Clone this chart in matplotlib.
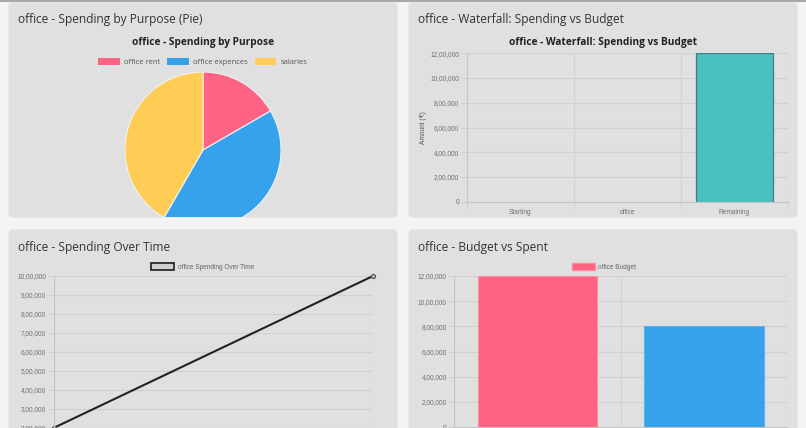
import matplotlib
matplotlib.use("Agg")
import matplotlib.pyplot as plt
from matplotlib.patches import FancyBboxPatch, Patch
from matplotlib.ticker import FuncFormatter, MultipleLocator

W, H = 806, 428

# ---- data ----
pie_labels = ["office rent", "office expences", "salaries"]
pie_values = [200000, 500000, 500000]
pie_colors = ["#ff6384", "#36a2eb", "#ffcd56"]

wf_labels = ["Starting", "office", "Remaining"]
wf_values = [0, 0, 1200000]

time_labels = ["Start", "Now"]
time_values = [200000, 1000000]

bvs_labels = ["Budget", "Spent"]
bvs_values = [1200000, 800000]
bvs_colors = ["#ff6384", "#36a2eb"]

TITLE_FONT = ["Open Sans", "DejaVu Sans"]
TICK_FONT = ["Liberation Sans", "DejaVu Sans"]
GRID = "#d0d0d0"
TICK_COLOR = "#707070"


def indian(v, pos=None):
    s = str(int(round(v)))
    if len(s) <= 3:
        return s
    head, tail = s[:-3], s[-3:]
    parts = []
    while len(head) > 2:
        parts.insert(0, head[-2:])
        head = head[:-2]
    if head:
        parts.insert(0, head)
    return ",".join(parts + [tail])


fig = plt.figure(figsize=(W / 100, H / 100), dpi=100)
fig.patch.set_facecolor("#f4f4f4")

bg = fig.add_axes([0, 0, 1, 1], zorder=-10)
bg.set_xlim(0, W)
bg.set_ylim(H, 0)
bg.axis("off")
bg.axhline(0.5, color="#a8a8a8", lw=1.5)


def px_axes(x0, y0, x1, y1):
    return fig.add_axes([x0 / W, 1 - y1 / H, (x1 - x0) / W, (y1 - y0) / H])


# panels
for (x0, y0, x1, y1) in [(9, 3, 397, 217), (409, 3, 797, 217),
                         (9, 230, 397, 480), (409, 230, 797, 480)]:
    bg.add_patch(FancyBboxPatch((x0 - 1, y0 - 1), x1 - x0 + 2, y1 - y0 + 2,
                                boxstyle="round,pad=0,rounding_size=5",
                                fc="#e9e9e9", ec="none"))
    bg.add_patch(FancyBboxPatch((x0, y0), x1 - x0, y1 - y0,
                                boxstyle="round,pad=0,rounding_size=4",
                                fc="#e0e0e0", ec="none"))

# panel titles
for (x, y, t) in [(18, 19, "office - Spending by Purpose (Pie)"),
                  (418, 19, "office - Waterfall: Spending vs Budget"),
                  (18, 247, "office - Spending Over Time"),
                  (418, 247, "office - Budget vs Spent")]:
    bg.text(x, y, t, fontsize=8.6, color="#333333", va="center", family=TITLE_FONT)

bg.text(203, 42, "office - Spending by Purpose", fontsize=7.3, weight="bold",
        color="#222222", ha="center", va="center", family=TITLE_FONT)
bg.text(603, 42, "office - Waterfall: Spending vs Budget", fontsize=7.3, weight="bold",
        color="#222222", ha="center", va="center", family=TITLE_FONT)


def style(ax):
    ax.set_facecolor("none")
    for s in ["top", "right"]:
        ax.spines[s].set_visible(False)
    ax.spines["left"].set_color("#c4c4c4")
    ax.spines["bottom"].set_color("#c4c4c4")
    ax.spines["left"].set_linewidth(0.8)
    ax.spines["bottom"].set_linewidth(0.8)
    ax.tick_params(labelsize=4.7, colors=GRID, labelcolor=TICK_COLOR,
                   length=4, width=0.8, pad=1.5)
    for lab in ax.get_xticklabels() + ax.get_yticklabels():
        lab.set_family(TICK_FONT)
    ax.yaxis.set_major_formatter(FuncFormatter(indian))
    ax.set_axisbelow(True)


# ---- pie ----
r = 78
cx, cy = 203, 150
axp = px_axes(cx - r, cy - r, cx + r, 217)
wedges, _ = axp.pie(pie_values, colors=pie_colors, startangle=90, counterclock=False,
                    wedgeprops=dict(edgecolor="#f2f2f2", linewidth=0.8))
for w in wedges:
    w.set_clip_on(True)
axp.set_aspect("auto")
axp.set_xlim(-1, 1)
axp.set_ylim(1 - (217 - (cy - r)) / r, 1)
axp.axis("off")
axp.legend(handles=[Patch(fc=c, ec="none") for c in pie_colors], labels=pie_labels,
           loc="center", bbox_to_anchor=(203, 62), bbox_transform=bg.transData,
           ncol=3, frameon=False, handlelength=2.8, handleheight=1.0,
           handletextpad=0.6, columnspacing=0.9, borderpad=0, borderaxespad=0,
           prop=dict(family=TITLE_FONT, size=5.5), labelcolor="#555555")

# ---- waterfall ----
axw = px_axes(466.7, 53.3, 787.7, 201.7)
style(axw)
axw.bar(range(len(wf_labels)), wf_values, width=0.72, color="#4bc0c0",
        edgecolor="#3f7f85", linewidth=[0.9 if v else 0 for v in wf_values])
axw.set_xlim(-0.5, len(wf_labels) - 0.5)
axw.set_ylim(0, 1200000)
axw.yaxis.set_major_locator(MultipleLocator(200000))
axw.set_xticks(range(len(wf_labels)))
axw.set_xticklabels(wf_labels, family=TICK_FONT)
axw.set_xticks([-0.5, 0.5, 1.5, 2.5], minor=True)
axw.tick_params(axis="x", which="major", length=0, pad=5)
axw.tick_params(axis="x", which="minor", length=4, colors=GRID, width=0.8)
axw.grid(axis="y", color=GRID, lw=0.8)
axw.grid(axis="x", which="minor", color=GRID, lw=0.8)
axw.set_ylabel("Amount (₹)", fontsize=4.7, color="#555555", family=TICK_FONT, labelpad=2.5)

# ---- spending over time ----
ymin_px = 276 + 10 * 18.97
axl = px_axes(54, 276, 373, ymin_px)
style(axl)
axl.plot(range(len(time_labels)), time_values, color="#222222", lw=1.5,
         marker="o", ms=3, mfc="#b8b8b8", mec="#555555", mew=0.8, clip_on=False)
axl.set_xlim(0, len(time_labels) - 1)
axl.set_ylim(0, 1000000)
axl.yaxis.set_major_locator(MultipleLocator(100000))
axl.set_xticks(range(len(time_labels)))
axl.set_xticklabels(time_labels, family=TICK_FONT)
axl.grid(color=GRID, lw=0.8)
axl.legend(handles=[Patch(fc="#cfcfcf", ec="#2a2a2a", lw=1.3)],
           labels=["office Spending Over Time"],
           loc="center", bbox_to_anchor=(202.5, 267), bbox_transform=bg.transData,
           frameon=False, handlelength=3.6, handleheight=1.1, handletextpad=0.5,
           borderpad=0, borderaxespad=0,
           prop=dict(family=TICK_FONT, size=4.7), labelcolor="#666666")

# ---- budget vs spent ----
axb = px_axes(454.3, 276, 787.3, 427)
style(axb)
axb.bar(range(len(bvs_labels)), bvs_values, width=0.72, color=bvs_colors,
        edgecolor=["#ff8aa2", "#5cb4ef"], linewidth=0.8)
axb.set_xlim(-0.5, len(bvs_labels) - 0.5)
axb.set_ylim(0, 1200000)
axb.yaxis.set_major_locator(MultipleLocator(200000))
axb.set_xticks(range(len(bvs_labels)))
axb.set_xticklabels(bvs_labels, family=TICK_FONT)
axb.set_xticks([-0.5, 0.5, 1.5], minor=True)
axb.tick_params(axis="x", which="major", length=0)
axb.grid(axis="y", color=GRID, lw=0.8)
axb.grid(axis="x", which="minor", color=GRID, lw=0.8)
axb.legend(handles=[Patch(fc="#ff6384", ec="#ff8aa2")], labels=["office Budget"],
           loc="center", bbox_to_anchor=(604, 267), bbox_transform=bg.transData,
           frameon=False, handlelength=3.6, handleheight=1.1, handletextpad=0.5,
           borderpad=0, borderaxespad=0,
           prop=dict(family=TICK_FONT, size=4.7), labelcolor="#666666")

fig.savefig("out.png", dpi=100, facecolor=fig.get_facecolor())
